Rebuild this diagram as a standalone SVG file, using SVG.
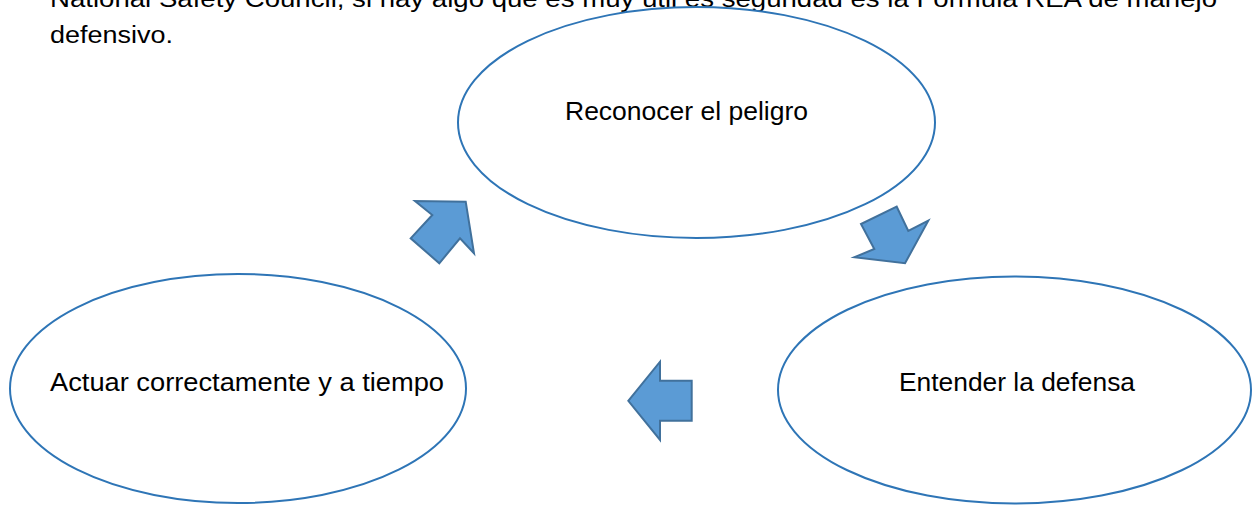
<svg xmlns="http://www.w3.org/2000/svg" width="1252" height="505" viewBox="0 0 1252 505">
<style>
.node ellipse{fill:#ffffff;stroke:#2E75B6;stroke-width:2}
.lbl{font-family:"Liberation Sans",Arial,sans-serif;font-size:25px;fill:#000}
.body{font-family:"Liberation Sans",Arial,sans-serif;font-size:23px;fill:#000}
.arrow{fill:#5B9BD5;stroke:#41719C;stroke-width:2;stroke-linejoin:miter}
</style>
<rect width="1252" height="505" fill="#ffffff"/>
<g id="body-text">
<text class="body" x="50" y="7" textLength="1167" lengthAdjust="spacingAndGlyphs">National Safety Council, si hay algo que es muy útil es seguridad es la Fórmula REA de manejo</text>
<text class="body" x="50" y="43" textLength="123" lengthAdjust="spacingAndGlyphs">defensivo.</text>
</g>
<g id="node-reconocer" class="node">
<ellipse cx="696.5" cy="122.5" rx="238.5" ry="115.5"/>
<text class="lbl" x="565" y="120" textLength="243" lengthAdjust="spacingAndGlyphs">Reconocer el peligro</text>
</g>
<g id="node-entender" class="node">
<ellipse cx="1014.5" cy="390" rx="236.5" ry="113.5"/>
<text class="lbl" x="899" y="391" textLength="236" lengthAdjust="spacingAndGlyphs">Entender la defensa</text>
</g>
<g id="node-actuar" class="node">
<ellipse cx="238" cy="388.5" rx="228" ry="114.5"/>
<text class="lbl" x="50" y="391" textLength="394" lengthAdjust="spacingAndGlyphs">Actuar correctamente y a tiempo</text>
</g>
<g id="connectors">
<polygon class="arrow" points="465.7,201.7 474,253.3 460,238.3 439.3,263.3 410.7,238.3 432.3,215 415,201"/>
<polygon class="arrow" points="905,263.3 928.3,220.7 908.3,231 896.7,206.7 861,224 874.3,249 854.3,257.3"/>
<polygon class="arrow" points="628.3,400.8 660,361.7 660,380.7 691.7,380.7 691.7,420.7 660,420.7 660,440"/>
</g>
</svg>
